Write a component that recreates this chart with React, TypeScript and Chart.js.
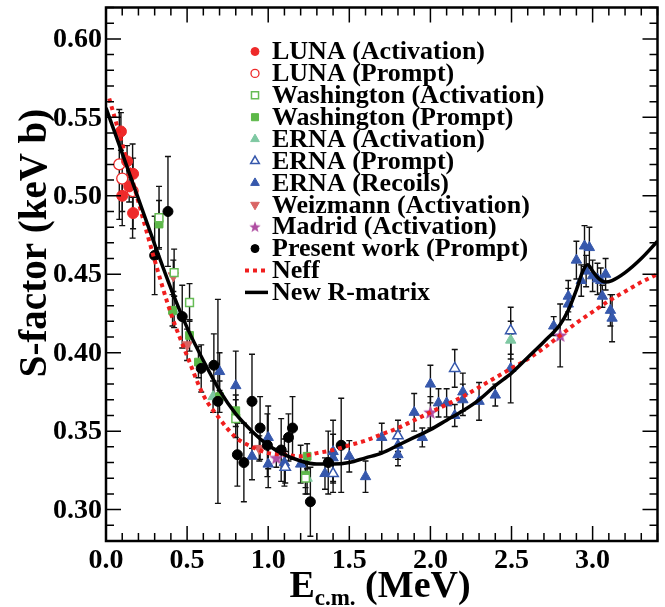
import React, { useEffect, useRef } from 'react';
import { Chart, registerables } from 'chart.js';
import { drawPoint } from 'chart.js/helpers';

Chart.register(...registerables);

type P = [number, number, number]; // [E (MeV), S (keV b), error]

const xMajorTicks = [0.0, 0.5, 1.0, 1.5, 2.0, 2.5, 3.0];
const xTickLabels = ['0.0', '0.5', '1.0', '1.5', '2.0', '2.5', '3.0'];
const yMajorTicks = [0.30, 0.35, 0.40, 0.45, 0.50, 0.55, 0.60];
const yTickLabels = ['0.30', '0.35', '0.40', '0.45', '0.50', '0.55', '0.60'];

const lunaActivation: P[] = [
  [0.092, 0.541, 0.012], [0.13, 0.522, 0.010], [0.167, 0.514, 0.010],
  [0.143, 0.506, 0.010], [0.10, 0.500, 0.010], [0.167, 0.489, 0.010],
];
const lunaPrompt: P[] = [
  [0.082, 0.520, 0.035], [0.10, 0.511, 0.030], [0.164, 0.503, 0.030],
];
const washActivation: P[] = [
  [0.327, 0.486, 0.020], [0.42, 0.451, 0.015], [0.515, 0.432, 0.012],
  [0.80, 0.358, 0.012], [1.23, 0.320, 0.010],
];
const washPrompt: P[] = [
  [0.327, 0.482, 0.015], [0.41, 0.427, 0.010], [0.515, 0.411, 0.010],
  [0.57, 0.394, 0.010], [0.70, 0.372, 0.010], [0.80, 0.363, 0.010],
  [1.24, 0.334, 0.008], [1.23, 0.322, 0.008],
];
const ernaActivation: P[] = [
  [0.42, 0.426, 0.010], [0.66, 0.372, 0.010], [1.24, 0.320, 0.010], [2.495, 0.408, 0.012],
];
const ernaPrompt: P[] = [
  [1.105, 0.327, 0.010], [1.40, 0.323, 0.012], [1.80, 0.347, 0.010],
  [2.15, 0.390, 0.012], [2.495, 0.414, 0.015],
];
const ernaRecoils: P[] = [
  [0.70, 0.388, 0.012], [0.80, 0.379, 0.022], [0.90, 0.334, 0.015], [1.00, 0.346, 0.020],
  [1.00, 0.329, 0.015], [1.10, 0.330, 0.015], [1.20, 0.329, 0.012], [1.35, 0.323, 0.010],
  [1.40, 0.337, 0.020], [1.40, 0.333, 0.015], [1.50, 0.334, 0.010], [1.60, 0.321, 0.010],
  [1.70, 0.346, 0.009], [1.80, 0.341, 0.009], [1.80, 0.335, 0.007], [1.90, 0.362, 0.012],
  [1.95, 0.346, 0.006], [2.00, 0.380, 0.012], [2.05, 0.368, 0.009], [2.10, 0.368, 0.009],
  [2.15, 0.360, 0.007], [2.20, 0.375, 0.012], [2.20, 0.370, 0.010], [2.30, 0.369, 0.012],
  [2.40, 0.373, 0.007], [2.495, 0.390, 0.022], [2.76, 0.417, 0.006], [2.85, 0.436, 0.010],
  [2.85, 0.431, 0.010], [2.90, 0.459, 0.012], [2.93, 0.446, 0.010], [2.95, 0.468, 0.013],
  [2.98, 0.467, 0.013], [2.96, 0.452, 0.010], [3.00, 0.449, 0.010], [3.03, 0.447, 0.010],
  [3.05, 0.446, 0.008], [3.08, 0.450, 0.010], [3.06, 0.436, 0.007], [3.11, 0.427, 0.010],
  [3.12, 0.422, 0.015],
];
const weizmann: P[] = [
  [0.415, 0.449, 0.010], [0.50, 0.405, 0.010], [0.945, 0.339, 0.008],
];
const madrid: P[] = [
  [1.05, 0.333, 0.006], [2.00, 0.362, 0.010], [2.80, 0.411, 0.020],
];
const presentWork: P[] = [
  [0.30, 0.462, 0.025], [0.382, 0.490, 0.035], [0.47, 0.423, 0.020], [0.587, 0.390, 0.015],
  [0.665, 0.392, 0.020], [0.69, 0.369, 0.065], [0.81, 0.335, 0.020], [0.85, 0.330, 0.025],
  [0.90, 0.369, 0.030], [0.95, 0.352, 0.020], [0.995, 0.341, 0.020], [1.08, 0.338, 0.020],
  [1.125, 0.346, 0.015], [1.15, 0.352, 0.020], [1.26, 0.305, 0.022], [1.37, 0.330, 0.020],
  [1.45, 0.341, 0.030],
];

const rmatrixE = [0.00, 0.10, 0.20, 0.30, 0.40, 0.50, 0.60, 0.70, 0.80, 0.90, 1.00, 1.10, 1.20, 1.30, 1.40, 1.50, 1.60, 1.70, 1.80, 1.90, 2.00, 2.10, 2.20, 2.30, 2.40, 2.50, 2.60, 2.70, 2.80, 2.85, 2.90, 2.94, 2.97, 3.00, 3.04, 3.08, 3.12, 3.20, 3.30, 3.40];
const rmatrixS = [0.556, 0.527, 0.498, 0.469, 0.441, 0.416, 0.395, 0.376, 0.361, 0.350, 0.341, 0.335, 0.331, 0.329, 0.329, 0.330, 0.333, 0.336, 0.341, 0.346, 0.351, 0.357, 0.363, 0.370, 0.379, 0.387, 0.397, 0.407, 0.418, 0.427, 0.440, 0.452, 0.456, 0.452, 0.447, 0.445, 0.446, 0.451, 0.460, 0.471];
const neffE = [0.02, 0.10, 0.20, 0.30, 0.40, 0.50, 0.60, 0.70, 0.80, 0.90, 1.00, 1.10, 1.20, 1.30, 1.40, 1.50, 1.60, 1.70, 1.80, 1.90, 2.00, 2.10, 2.20, 2.30, 2.40, 2.50, 2.60, 2.70, 2.80, 2.90, 3.00, 3.10, 3.20, 3.30, 3.40];
const neffS = [0.562, 0.533, 0.496, 0.459, 0.425, 0.398, 0.373, 0.358, 0.346, 0.340, 0.336, 0.335, 0.334, 0.336, 0.338, 0.341, 0.344, 0.348, 0.352, 0.357, 0.362, 0.367, 0.372, 0.378, 0.384, 0.390, 0.396, 0.403, 0.411, 0.419, 0.426, 0.433, 0.439, 0.445, 0.450];

const FONT = '"Liberation Serif", "Times New Roman", serif';

function makeStar(color: string, size: number): HTMLCanvasElement {
  const c = document.createElement('canvas');
  c.width = size;
  c.height = size;
  const g = c.getContext('2d')!;
  const cx = size / 2, cy = size / 2 + 0.5, R = size / 2, r = R * 0.42;
  g.beginPath();
  for (let i = 0; i < 10; i++) {
    const a = -Math.PI / 2 + (i * Math.PI) / 5;
    const rr = i % 2 === 0 ? R : r;
    const px = cx + rr * Math.cos(a), py = cy + rr * Math.sin(a);
    if (i === 0) g.moveTo(px, py); else g.lineTo(px, py);
  }
  g.closePath();
  g.fillStyle = color;
  g.fill();
  return c;
}

export default function App() {
  const ref = useRef<HTMLCanvasElement>(null);

  useEffect(() => {
    const canvas = ref.current!;
    const star = makeStar('#b04ea2', 15);
    const starSmall = makeStar('#b04ea2', 12);
    const RED = '#ee2a2a';
    const GREEN = '#5cb848';
    const TEAL = '#7ec8a2';
    const BLUE = '#3658ac';
    const PINK = '#d96464';

    const toPts = (arr: P[]) => arr.map(([x, y]) => ({ x, y }));
    const series = [
      { label: 'LUNA (Activation)', arr: lunaActivation, style: 'circle', r: 5.5, bg: RED, bc: RED, bw: 1, rot: 0, lr: 4 },
      { label: 'LUNA (Prompt)', arr: lunaPrompt, style: 'circle', r: 5.5, bg: '#ffffff', bc: RED, bw: 1.3, rot: 0, lr: 4 },
      { label: 'Washington (Activation)', arr: washActivation, style: 'rect', r: 5.5, bg: '#ffffff', bc: '#66bb55', bw: 1.5, rot: 0, lr: 5 },
      { label: 'Washington (Prompt)', arr: washPrompt, style: 'rect', r: 5.5, bg: GREEN, bc: GREEN, bw: 1, rot: 0, lr: 5 },
      { label: 'ERNA (Activation)', arr: ernaActivation, style: 'triangle', r: 6, bg: TEAL, bc: TEAL, bw: 1, rot: 0, lr: 5 },
      { label: 'ERNA (Prompt)', arr: ernaPrompt, style: 'triangle', r: 6, bg: '#ffffff', bc: BLUE, bw: 1.5, rot: 0, lr: 5 },
      { label: 'ERNA (Recoils)', arr: ernaRecoils, style: 'triangle', r: 6, bg: BLUE, bc: BLUE, bw: 1, rot: 0, lr: 5 },
      { label: 'Weizmann (Activation)', arr: weizmann, style: 'triangle', r: 6, bg: PINK, bc: PINK, bw: 1, rot: 180, lr: 5 },
      { label: 'Madrid (Activation)', arr: madrid, style: star as any, r: 7, bg: '#b04ea2', bc: '#b04ea2', bw: 0, rot: 0, lr: 6 },
      { label: 'Present work (Prompt)', arr: presentWork, style: 'circle', r: 5, bg: '#000000', bc: '#000000', bw: 1, rot: 0, lr: 4 },
    ];

    const pointDatasets = series.map((s, i) => ({
      label: s.label,
      data: toPts(s.arr),
      pointStyle: s.style,
      pointRadius: s.r,
      pointRotation: s.rot,
      backgroundColor: s.bg,
      borderColor: s.bc,
      pointBorderWidth: s.bw,
      showLine: false,
      order: i === 9 ? 2 : 3,
    }));

    const neffDs = {
      label: 'Neff',
      data: neffE.map((x, i) => ({ x, y: neffS[i] })),
      showLine: true,
      borderColor: '#f01e1e',
      borderWidth: 4,
      borderDash: [4, 4],
      borderCapStyle: 'butt',
      pointRadius: 0,
      cubicInterpolationMode: 'monotone',
      order: 1,
    };
    const rmDs = {
      label: 'New R-matrix',
      data: rmatrixE.map((x, i) => ({ x, y: rmatrixS[i] })),
      showLine: true,
      borderColor: '#000000',
      borderWidth: 3.5,
      pointRadius: 0,
      cubicInterpolationMode: 'monotone',
      order: 0,
    };

    const errorBars = {
      id: 'errorBars',
      beforeDatasetsDraw(chart: any) {
        const { ctx, scales } = chart;
        const xs = scales.x, ys = scales.y;
        ctx.save();
        ctx.beginPath();
        ctx.rect(chart.chartArea.left, chart.chartArea.top, chart.chartArea.right - chart.chartArea.left, chart.chartArea.bottom - chart.chartArea.top);
        ctx.clip();
        ctx.strokeStyle = '#111111';
        ctx.lineWidth = 1.4;
        series.forEach((s) => {
          s.arr.forEach(([x, y, e]) => {
            const px = xs.getPixelForValue(x);
            const p1 = ys.getPixelForValue(y - e);
            const p2 = ys.getPixelForValue(y + e);
            ctx.beginPath();
            ctx.moveTo(px, p1); ctx.lineTo(px, p2);
            ctx.moveTo(px - 3, p1); ctx.lineTo(px + 3, p1);
            ctx.moveTo(px - 3, p2); ctx.lineTo(px + 3, p2);
            ctx.stroke();
          });
        });
        ctx.restore();
      },
    };

    const frame = {
      id: 'frame',
      afterDraw(chart: any) {
        const { ctx, chartArea: a, scales } = chart;
        const xs = scales.x, ys = scales.y;
        ctx.save();
        ctx.strokeStyle = '#000';
        // ticks
        ctx.lineWidth = 1.5;
        ctx.beginPath();
        for (let i = 0; i <= 34; i++) {
          const v = i / 10;
          const px = xs.getPixelForValue(v);
          const major = i % 5 === 0;
          const len = major ? 15 : 8;
          ctx.moveTo(px, a.bottom); ctx.lineTo(px, a.bottom - len);
          ctx.moveTo(px, a.top); ctx.lineTo(px, a.top + len);
        }
        for (let i = 28; i <= 62; i++) {
          const v = i / 100;
          const py = ys.getPixelForValue(v);
          const major = i % 5 === 0;
          const len = major ? 15 : 8;
          ctx.moveTo(a.left, py); ctx.lineTo(a.left + len, py);
          ctx.moveTo(a.right, py); ctx.lineTo(a.right - len, py);
        }
        ctx.stroke();
        // frame
        ctx.lineWidth = 2.5;
        ctx.strokeRect(a.left, a.top, a.right - a.left, a.bottom - a.top);

        // tick labels
        ctx.fillStyle = '#000';
        ctx.font = `bold 28px ${FONT}`;
        ctx.textAlign = 'center';
        ctx.textBaseline = 'top';
        xMajorTicks.forEach((v, i) => {
          ctx.fillText(xTickLabels[i], xs.getPixelForValue(v), a.bottom + 6);
        });
        ctx.textAlign = 'right';
        ctx.textBaseline = 'middle';
        yMajorTicks.forEach((v, i) => {
          ctx.fillText(yTickLabels[i], a.left - 4, ys.getPixelForValue(v) + 1);
        });

        // y title
        ctx.save();
        ctx.translate(36, 243);
        ctx.rotate(-Math.PI / 2);
        ctx.textAlign = 'center';
        ctx.textBaseline = 'middle';
        ctx.font = `bold 39px ${FONT}`;
        ctx.fillText('S-factor (keV b)', 0, 0);
        ctx.restore();

        // x title
        ctx.textAlign = 'left';
        ctx.textBaseline = 'alphabetic';
        const big = `bold 38px ${FONT}`;
        const small = `bold 23px ${FONT}`;
        ctx.font = big;
        const wE = ctx.measureText('E').width;
        const wM = ctx.measureText(' (MeV)').width;
        ctx.font = small;
        const wS = ctx.measureText('c.m.').width;
        const total = wE + wS + wM;
        let x0 = 380 - total / 2;
        const base = 597;
        ctx.font = big;
        ctx.fillText('E', x0, base);
        x0 += wE;
        ctx.font = small;
        ctx.fillText('c.m.', x0, base + 8);
        x0 += wS;
        ctx.font = big;
        ctx.fillText(' (MeV)', x0, base);

        // legend
        const lx = 255, tx = 272, ly0 = 51.5, dy = 21.9;
        ctx.font = `bold 26px ${FONT}`;
        ctx.textBaseline = 'middle';
        ctx.textAlign = 'left';
        series.forEach((s, i) => {
          const y = ly0 + dy * i;
          ctx.save();
          ctx.fillStyle = s.bg;
          ctx.strokeStyle = s.bc;
          ctx.lineWidth = s.bw;
          if (s.label.startsWith('Madrid')) {
            ctx.drawImage(starSmall, lx - 6, y - 6, 12, 12);
          } else {
            drawPoint(ctx, { pointStyle: s.style, radius: s.lr, rotation: s.rot, borderWidth: s.bw } as any, lx, y);
          }
          ctx.restore();
          ctx.fillStyle = '#000';
          ctx.fillText(s.label, tx, y + 1);
        });
        // line legend entries
        const yN = ly0 + dy * 10;
        ctx.save();
        ctx.strokeStyle = '#f01e1e';
        ctx.lineWidth = 4;
        ctx.setLineDash([4, 4]);
        ctx.beginPath(); ctx.moveTo(245, yN); ctx.lineTo(268, yN); ctx.stroke();
        ctx.restore();
        ctx.fillText('Neff', tx, yN + 1);
        const yR = ly0 + dy * 11;
        ctx.save();
        ctx.strokeStyle = '#000';
        ctx.lineWidth = 3.5;
        ctx.beginPath(); ctx.moveTo(245, yR); ctx.lineTo(268, yR); ctx.stroke();
        ctx.restore();
        ctx.fillText('New R-matrix', tx, yR + 1);
        ctx.restore();
      },
    };

    const chart = new Chart(canvas, {
      type: 'scatter',
      data: { datasets: [rmDs, neffDs, ...pointDatasets] as any },
      options: {
        animation: false,
        responsive: false,
        devicePixelRatio: 1,
        layout: { padding: { left: 106, right: 5, top: 7, bottom: 66 } },
        plugins: { legend: { display: false }, tooltip: { enabled: false } },
        scales: {
          x: { type: 'linear', min: 0, max: 3.4, display: false },
          y: { type: 'linear', min: 0.28, max: 0.62, display: false },
        },
      } as any,
      plugins: [errorBars, frame],
    });
    return () => chart.destroy();
  }, []);

  return (
    <div style={{ position: 'absolute', left: 0, top: 0, width: 665, height: 607, background: '#fff' }}>
      <canvas ref={ref} width={665} height={607} />
    </div>
  );
}
